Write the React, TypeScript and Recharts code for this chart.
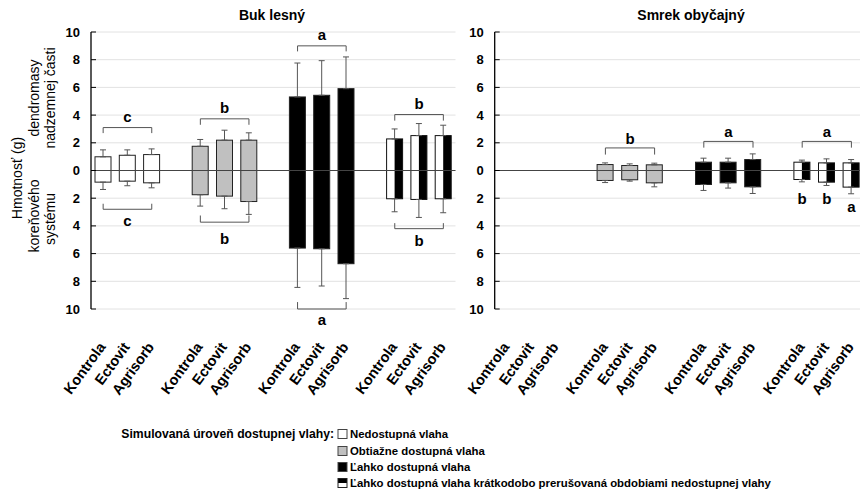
import React from 'react';
import { BarChart, Bar, XAxis, YAxis, CartesianGrid, ErrorBar, ReferenceLine, ReferenceDot } from 'recharts';

const FONT = '"Liberation Sans", Arial, Helvetica, sans-serif';

const treatments = ['Kontrola', 'Ectovit', 'Agrisorb'];
const moistureLevels = [
  'Nedostupná vlaha',
  'Obtiažne dostupná vlaha',
  'Ľahko dostupná vlaha',
  'Ľahko dostupná vlaha krátkodobo prerušovaná obdobiami nedostupnej vlahy',
];
const legendTitle = 'Simulovaná úroveň dostupnej vlahy:';
const yTicks = [-10, -8, -6, -4, -2, 0, 2, 4, 6, 8, 10];
const panelTitles = ['Buk lesný', 'Smrek obyčajný'];

// Buk lesný — [moisture level][treatment]
const bukAbove = [[0.99, 1.1, 1.15], [1.75, 2.19, 2.19], [5.31, 5.43, 5.91], [2.28, 2.52, 2.52]];
const bukAboveErr = [[0.5, 0.39, 0.41], [0.49, 0.72, 0.53], [2.45, 2.5, 2.29], [0.72, 0.87, 0.75]];
const bukRoot = [[0.84, 0.77, 0.89], [1.75, 1.85, 2.24], [5.6, 5.65, 6.73], [2.04, 2.09, 2.04]];
const bukRootErr = [[0.53, 0.33, 0.36], [0.82, 0.91, 0.93], [2.84, 2.69, 2.52], [0.94, 1.3, 1.01]];

// Smrek obyčajný
const smrekAbove = [[null, null, null], [0.43, 0.36, 0.41], [0.6, 0.6, 0.79], [0.6, 0.55, 0.55]];
const smrekAboveErr = [[null, null, null], [0.12, 0.12, 0.12], [0.29, 0.29, 0.41], [0.15, 0.29, 0.24]];
const smrekRoot = [[null, null, null], [0.72, 0.67, 0.89], [1.01, 0.89, 1.18], [0.65, 0.84, 1.2]];
const smrekRootErr = [[null, null, null], [0.15, 0.1, 0.29], [0.43, 0.38, 0.48], [0.17, 0.24, 0.48]];

// brackets: group, bracket line value, tick end value, letter, letter value
const bukBrackets = [
  { g: 0, y: 3.1, tip: 2.7, letter: 'c', ly: 3.9 },
  { g: 0, y: -2.8, tip: -2.4, letter: 'c', ly: -3.6 },
  { g: 1, y: 3.73, tip: 3.3, letter: 'b', ly: 4.55 },
  { g: 1, y: -3.73, tip: -3.25, letter: 'b', ly: -4.9 },
  { g: 2, y: 9.0, tip: 8.6, letter: 'a', ly: 9.8 },
  { g: 2, y: -10.0, tip: -9.5, letter: 'a', ly: -10.8 },
  { g: 3, y: 4.04, tip: 3.6, letter: 'b', ly: 4.85 },
  { g: 3, y: -4.2, tip: -3.8, letter: 'b', ly: -5.05 },
];
const smrekBrackets = [
  { g: 1, y: 1.63, tip: 1.15, letter: 'b', ly: 2.3 },
  { g: 2, y: 2.1, tip: 1.65, letter: 'a', ly: 2.8 },
  { g: 3, y: 2.1, tip: 1.65, letter: 'a', ly: 2.8 },
];
const smrekSingleLetters = [
  { g: 3, t: 0, letter: 'b', ly: -2.0 },
  { g: 3, t: 1, letter: 'b', ly: -2.0 },
  { g: 3, t: 2, letter: 'a', ly: -2.6 },
];

const LEVEL_FILLS = ['#ffffff', '#c0c0c0', '#000000'];

function buildRows(above, aboveErr, root, rootErr) {
  const rows: any[] = [];
  for (let g = 0; g < 4; g++) {
    for (let t = 0; t < 3; t++) {
      const a = above[g][t];
      const r = root[g][t];
      rows.push({
        id: `g${g}t${t}`,
        name: treatments[t],
        level: g,
        above: a,
        aboveErr: a == null ? null : [0, aboveErr[g][t]],
        root: r == null ? null : -r,
        rootErr: r == null ? null : [rootErr[g][t], 0],
      });
    }
    if (g < 3) rows.push({ id: `gap${g}`, name: '', level: -1, above: null, aboveErr: null, root: null, rootErr: null });
  }
  return rows;
}

const bukRows = buildRows(bukAbove, bukAboveErr, bukRoot, bukRootErr);
const smrekRows = buildRows(smrekAbove, smrekAboveErr, smrekRoot, smrekRootErr);

const BarShape = (props: any) => {
  const { x, y, width, height, payload } = props;
  if (x == null || y == null || !height || !payload) return null;
  const top = Math.min(y, y + height);
  const h = Math.abs(height);
  if (payload.level === 3) {
    return (
      <g>
        <rect x={x} y={top} width={width} height={h} fill="#ffffff" />
        <rect x={x + width / 2} y={top} width={width / 2} height={h} fill="#000000" />
        <rect x={x} y={top} width={width} height={h} fill="none" stroke="#111" strokeWidth={1} />
      </g>
    );
  }
  return <rect x={x} y={top} width={width} height={h} fill={LEVEL_FILLS[payload.level]} stroke="#222" strokeWidth={1} />;
};

const YTick = (props: any) => {
  const { x, y, payload } = props;
  return (
    <g>
      <line x1={x} y1={y} x2={x + 5} y2={y} stroke="#000" strokeWidth={1} />
      <text x={x - 11} y={y} dy={4.5} textAnchor="end" fontFamily={FONT} fontSize={13} fontWeight="bold" fill="#000">
        {Math.abs(payload.value)}
      </text>
    </g>
  );
};

const labelOf = (rows: any[]) => {
  const m: Record<string, string> = {};
  rows.forEach((r) => (m[r.id] = r.name));
  return m;
};

const makeXTick = (map: Record<string, string>) => (props: any) => {
  const { x, y, payload } = props;
  const lab = map[payload.value];
  if (!lab) return null;
  const tx = x + 3;
  const ty = y + 8;
  return (
    <text x={tx} y={ty} transform={`rotate(-54 ${tx} ${ty})`} textAnchor="end" fontFamily={FONT} fontSize={14.5} fontWeight="bold" fill="#000">
      {lab}
    </text>
  );
};

const letterLabel = (letter: string) => ({
  value: letter,
  position: 'center' as const,
  fontSize: 15,
  fontWeight: 'bold',
  fill: '#000',
  fontFamily: FONT,
});

function bracketElements(brackets: any[], prefix: string) {
  const out: any[] = [];
  brackets.forEach((b, i) => {
    const x0 = `g${b.g}t0`;
    const x1 = `g${b.g}t1`;
    const x2 = `g${b.g}t2`;
    out.push(
      <ReferenceLine key={`${prefix}h${i}`} xAxisId="main" ifOverflow="visible" stroke="#555" strokeWidth={1}
        segment={[{ x: x0, y: b.y }, { x: x2, y: b.y }]} />,
      <ReferenceLine key={`${prefix}l${i}`} xAxisId="main" ifOverflow="visible" stroke="#555" strokeWidth={1}
        segment={[{ x: x0, y: b.y }, { x: x0, y: b.tip }]} />,
      <ReferenceLine key={`${prefix}r${i}`} xAxisId="main" ifOverflow="visible" stroke="#555" strokeWidth={1}
        segment={[{ x: x2, y: b.y }, { x: x2, y: b.tip }]} />,
      <ReferenceDot key={`${prefix}t${i}`} xAxisId="main" x={x1} y={b.ly} r={0} fill="none" stroke="none"
        ifOverflow="visible" label={letterLabel(b.letter)} />
    );
  });
  return out;
}

function Panel({ rows, brackets, singles, width, margin }: any) {
  const map = labelOf(rows);
  const XTick = makeXTick(map);
  return (
    <BarChart width={width} height={420} data={rows} margin={margin} barSize={16}>
      <CartesianGrid xAxisId="main" vertical={false} stroke="#e2e2e2" />
      <XAxis xAxisId="main" dataKey="id" axisLine={false} tickLine={false} tickSize={0} tickMargin={0}
        interval={0} height={111} tick={XTick} />
      <XAxis xAxisId="hidden" dataKey="id" hide />
      <YAxis domain={[-10, 10]} ticks={yTicks} width={40} axisLine={{ stroke: '#000', strokeWidth: 1.3 }}
        tickLine={false} tickSize={0} tickMargin={0} interval={0} tick={<YTick />} allowDataOverflow />
      <Bar xAxisId="main" dataKey="above" shape={<BarShape />} isAnimationActive={false}>
        <ErrorBar dataKey="aboveErr" width={3} stroke="#555" strokeWidth={1} />
      </Bar>
      <Bar xAxisId="hidden" dataKey="root" shape={<BarShape />} isAnimationActive={false}>
        <ErrorBar dataKey="rootErr" width={3} stroke="#555" strokeWidth={1} />
      </Bar>
      <ReferenceLine xAxisId="main" y={0} stroke="#444" strokeWidth={1} />
      {bracketElements(brackets, 'b')}
      {(singles || []).map((s: any, i: number) => (
        <ReferenceDot key={`s${i}`} xAxisId="main" x={`g${s.g}t${s.t}`} y={s.ly} r={0} fill="none" stroke="none"
          ifOverflow="visible" label={letterLabel(s.letter)} />
      ))}
    </BarChart>
  );
}

const legendRowsY = [434, 451, 467, 483];

function LegendIcon({ level, y }: any) {
  const x = 338;
  const s = 9;
  const top = y - s / 2;
  if (level === 3) {
    return (
      <g>
        <rect x={x} y={top} width={s} height={s} fill="#fff" />
        <rect x={x} y={top} width={s} height={s / 2} fill="#000" />
        <rect x={x} y={top} width={s} height={s} fill="none" stroke="#222" />
      </g>
    );
  }
  return <rect x={x} y={top} width={s} height={s} fill={LEVEL_FILLS[level]} stroke="#444" />;
}

export default function App() {
  return (
    <div style={{ position: 'absolute', left: 0, top: 0, width: 860, height: 489, overflow: 'hidden', background: '#fff' }}>
      <div style={{ position: 'absolute', left: 0, top: 0 }}>
        <Panel rows={bukRows} brackets={bukBrackets} width={460} margin={{ top: 32, right: 4.5, left: 51, bottom: 0 }} />
      </div>
      <div style={{ position: 'absolute', left: 440, top: 0 }}>
        <Panel rows={smrekRows} brackets={smrekBrackets} singles={smrekSingleLetters} width={440}
          margin={{ top: 32, right: 16.3, left: 14.7, bottom: 0 }} />
      </div>
      <svg width={860} height={489} style={{ position: 'absolute', left: 0, top: 0, pointerEvents: 'none' }}>
        <text x={272} y={20} textAnchor="middle" fontFamily={FONT} fontSize={14} fontWeight="bold" fill="#000">{panelTitles[0]}</text>
        <text x={691} y={20} textAnchor="middle" fontFamily={FONT} fontSize={14} fontWeight="bold" fill="#000">{panelTitles[1]}</text>

        <text transform="translate(22 178) rotate(-90)" textAnchor="middle" fontFamily={FONT} fontSize={14} fill="#000">Hmotnosť (g)</text>
        <text transform="translate(39 98) rotate(-90)" textAnchor="middle" fontFamily={FONT} fontSize={14} fill="#000">dendromasy</text>
        <text transform="translate(55 98) rotate(-90)" textAnchor="middle" fontFamily={FONT} fontSize={14} fill="#000">nadzemnej časti</text>
        <text transform="translate(39 216) rotate(-90)" textAnchor="middle" fontFamily={FONT} fontSize={14} fill="#000">koreňového</text>
        <text transform="translate(55 219) rotate(-90)" textAnchor="middle" fontFamily={FONT} fontSize={14} fill="#000">systému</text>

        <text x={334} y={legendRowsY[0] + 4} textAnchor="end" fontFamily={FONT} fontSize={12.2} fontWeight="bold" fill="#000">{legendTitle}</text>
        {moistureLevels.map((lab, i) => (
          <g key={lab}>
            <LegendIcon level={i} y={legendRowsY[i]} />
            <text x={350} y={legendRowsY[i] + 4} fontFamily={FONT} fontSize={11.4} fontWeight="bold" fill="#000">{lab}</text>
          </g>
        ))}
      </svg>
    </div>
  );
}
